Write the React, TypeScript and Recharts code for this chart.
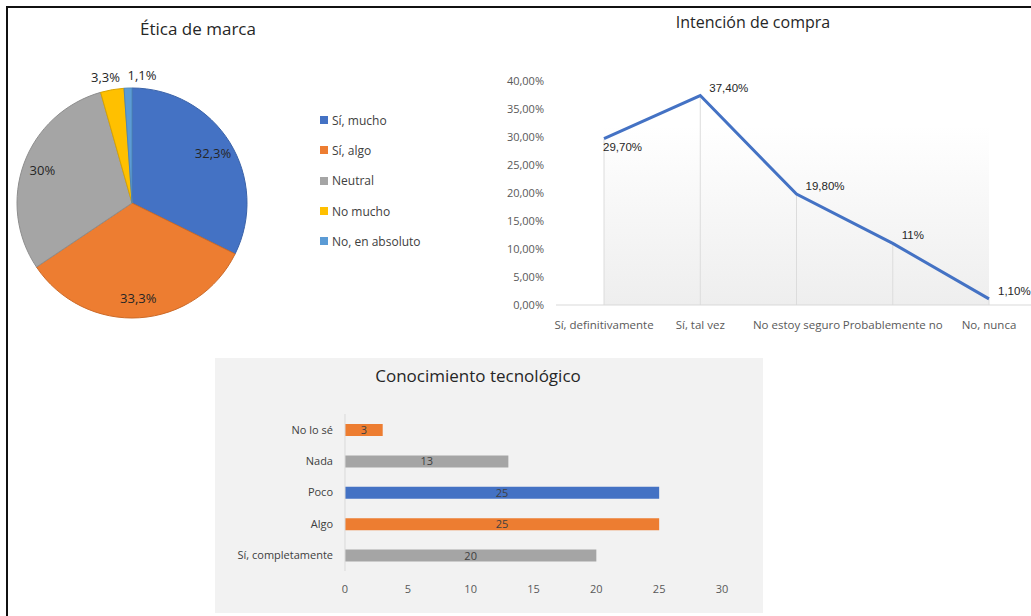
import React from 'react'
import {
  PieChart, Pie, Cell, Legend,
  LineChart, Line, XAxis, YAxis, ReferenceLine, ReferenceArea, LabelList,
  BarChart, Bar,
} from 'recharts'

// Ética de marca (pie)
const eticaLabels = ['Sí, mucho', 'Sí, algo', 'Neutral', 'No mucho', 'No, en absoluto']
const eticaValues = [32.3, 33.3, 30, 3.3, 1.1]
const eticaColors = ['#4472C4', '#ED7D31', '#A5A5A5', '#FFC000', '#5B9BD5']
const eticaStrokes = ['#3A62A8', '#CC6A28', '#8E8E8E', '#D9A300', '#4E86B8']

// Intención de compra (line)
const intencionLabels = ['Sí, definitivamente', 'Sí, tal vez', 'No estoy seguro', 'Probablemente no', 'No, nunca']
const intencionValues = [29.7, 37.4, 19.8, 11, 1.1]
const intencionTextos = ['29,70%', '37,40%', '19,80%', '11%', '1,10%']
const intencionTicks = [0, 5, 10, 15, 20, 25, 30, 35, 40]

// Conocimiento tecnológico (bars), top to bottom
const conocimientoLabels = ['No lo sé', 'Nada', 'Poco', 'Algo', 'Sí, completamente']
const conocimientoValues = [3, 13, 25, 25, 20]
const conocimientoColors = ['#ED7D31', '#A5A5A5', '#4472C4', '#ED7D31', '#A5A5A5']
const conocimientoTicks = [0, 5, 10, 15, 20, 25, 30]

const FONT = '"Open Sans", "Noto Sans", sans-serif'

const eticaData = eticaLabels.map((name, i) => ({ name, value: eticaValues[i] }))
const intencionData = intencionLabels.map((name, i) => ({ name, value: intencionValues[i], texto: intencionTextos[i] }))
const conocimientoData = conocimientoLabels.map((name, i) => ({ name, value: conocimientoValues[i] }))

const RAD = Math.PI / 180

function PieLabel(props: any) {
  const { cx, cy, midAngle, outerRadius, value, percent } = props
  const small = percent < 0.05
  const r = small ? outerRadius + 13 : outerRadius * 0.83
  const cos = Math.cos(-midAngle * RAD)
  let x = cx + r * cos
  const y = cy + r * Math.sin(-midAngle * RAD)
  let anchor: 'middle' | 'start' | 'end' = 'middle'
  if (small) {
    if (cos < -0.1) { anchor = 'end'; x += 10 } else { anchor = 'start' }
  }
  return (
    <text x={x} y={y} textAnchor={anchor} dominantBaseline="central" fill="#262626" fontSize={13} fontFamily={FONT}>
      {String(value).replace('.', ',')}%
    </text>
  )
}

// legend keeps the series order (recharts would sort it)
function PieLegend() {
  return (
    <div style={{ fontFamily: FONT, fontSize: 12, color: '#404040' }}>
      {eticaLabels.map((label, i) => (
        <div key={label} style={{ height: 30.3, display: 'flex', alignItems: 'center' }}>
          <span style={{ width: 8, height: 8, background: eticaColors[i], marginRight: 4, display: 'inline-block' }} />
          <span>{label}</span>
        </div>
      ))}
    </div>
  )
}

function LineLabel(props: any) {
  const { x, y, index } = props
  const below = index === 0
  return (
    <text
      x={below ? x - 1 : x + 9}
      y={below ? y + 8 : y - 8}
      dominantBaseline="central"
      fill="#262626"
      fontSize={11.5}
      fontFamily='"Liberation Sans", Arial, sans-serif'
    >
      {intencionData[index].texto}
    </text>
  )
}

export default function App() {
  return (
    <div style={{ position: 'absolute', left: 0, top: 0, width: 1031, height: 616, overflow: 'hidden', background: '#fff', fontFamily: FONT }}>
      <div style={{ position: 'absolute', left: 6, top: 6, width: 1100, height: 700, borderTop: '2px solid #111', borderLeft: '2px solid #111' }} />

      {/* Ética de marca */}
      <div style={{ position: 'absolute', left: 98, top: 17, width: 200, textAlign: 'center', fontSize: 17, color: '#262626' }}>
        Ética de marca
      </div>
      <div style={{ position: 'absolute', left: 0, top: 0 }}>
        <PieChart width={470} height={330}>
          <Pie
            data={eticaData}
            dataKey="value"
            nameKey="name"
            cx={127}
            cy={198}
            outerRadius={115}
            startAngle={90}
            endAngle={-270}
            label={PieLabel}
            labelLine={false}
            isAnimationActive={false}
          >
            {eticaData.map((d, i) => (
              <Cell key={d.name} fill={eticaColors[i]} stroke={eticaStrokes[i]} strokeWidth={1} />
            ))}
          </Pie>
          <Legend
            layout="vertical"
            content={PieLegend}
            wrapperStyle={{ position: 'absolute', left: 320, top: 105, width: 140 }}
          />
        </PieChart>
      </div>

      {/* Intención de compra */}
      <div style={{ position: 'absolute', left: 603, top: 11, width: 300, textAlign: 'center', fontSize: 16, color: '#262626' }}>
        Intención de compra
      </div>
      <div style={{ position: 'absolute', left: 480, top: 0 }}>
        <LineChart width={551} height={340} data={intencionData} margin={{ top: 81, right: 0, bottom: 0, left: 0 }}>
          <defs>
            <linearGradient id="plotFill" x1="0" y1="0" x2="0" y2="1">
              <stop offset="0" stopColor="#ffffff" />
              <stop offset="0.2" stopColor="#ffffff" />
              <stop offset="1" stopColor="#eeeeee" />
            </linearGradient>
          </defs>
          <ReferenceArea y1={0} y2={40} fill="url(#plotFill)" fillOpacity={1} stroke="none" />
          <XAxis
            dataKey="name"
            height={35}
            padding={{ left: 48, right: 42 }}
            axisLine={{ stroke: '#d9d9d9' }}
            tickLine={false}
            tickMargin={10}
            interval={0}
            tick={{ fill: '#595959', fontSize: 11.5, fontFamily: FONT }}
          />
          <YAxis
            domain={[0, 40]}
            ticks={intencionTicks}
            width={76}
            axisLine={false}
            tickLine={false}
            tickMargin={6}
            tickFormatter={(v: number) => `${v.toFixed(2).replace('.', ',')}%`}
            tick={{ fill: '#595959', fontSize: 11, fontFamily: FONT }}
          />
          {intencionData.map((d) => (
            <ReferenceLine key={d.name} segment={[{ x: d.name, y: 0 }, { x: d.name, y: d.value }]} stroke="#dcdcdc" strokeWidth={1} />
          ))}
          <Line type="linear" dataKey="value" stroke="#4472C4" strokeWidth={3} dot={false} isAnimationActive={false}>
            <LabelList dataKey="value" content={LineLabel} />
          </Line>
        </LineChart>
      </div>

      {/* Conocimiento tecnológico */}
      <div style={{ position: 'absolute', left: 215, top: 358, width: 548, height: 255, background: '#F2F2F2' }} />
      <div style={{ position: 'absolute', left: 328, top: 364, width: 300, textAlign: 'center', fontSize: 17, color: '#262626' }}>
        Conocimiento tecnológico
      </div>
      <div style={{ position: 'absolute', left: 215, top: 358 }}>
        <BarChart
          width={548}
          height={255}
          data={conocimientoData}
          layout="vertical"
          margin={{ top: 56, right: 41, bottom: 12, left: 0 }}
        >
          <XAxis
            type="number"
            domain={[0, 30]}
            ticks={conocimientoTicks}
            height={30}
            axisLine={false}
            tickLine={false}
            tickMargin={8}
            tick={{ fill: '#595959', fontSize: 11, fontFamily: FONT }}
          />
          <YAxis
            type="category"
            dataKey="name"
            width={130}
            axisLine={{ stroke: '#d9d9d9' }}
            tickLine={false}
            tickMargin={6}
            interval={0}
            tick={{ fill: '#404040', fontSize: 11, fontFamily: FONT }}
          />
          <Bar dataKey="value" barSize={12} isAnimationActive={false}>
            {conocimientoData.map((d, i) => (
              <Cell key={d.name} fill={conocimientoColors[i]} />
            ))}
            <LabelList dataKey="value" position="center" fill="#404040" fontSize={11} fontFamily={FONT} />
          </Bar>
        </BarChart>
      </div>
    </div>
  )
}
